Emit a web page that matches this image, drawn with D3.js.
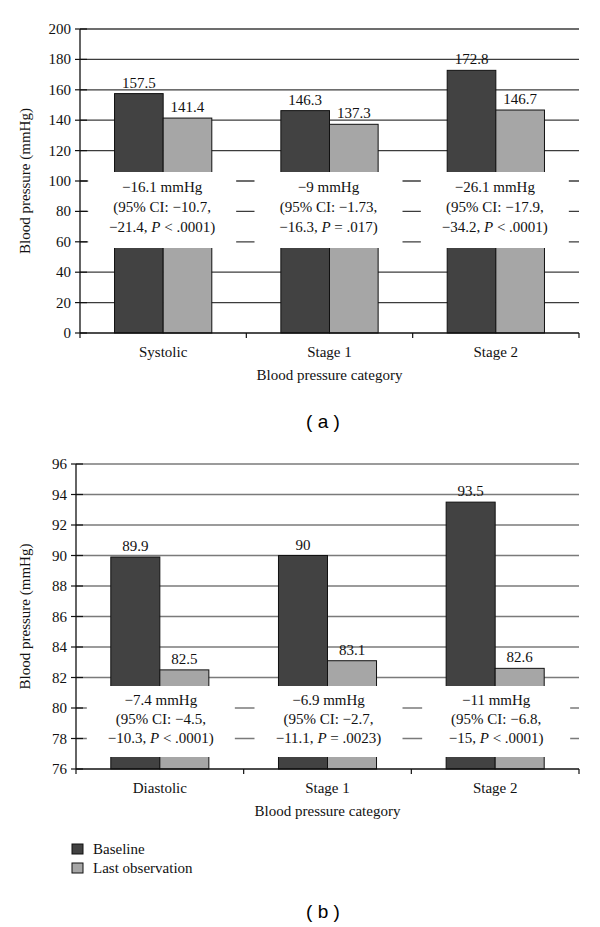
<!DOCTYPE html>
<html><head><meta charset="utf-8">
<script src="https://cdn.jsdelivr.net/npm/d3@7"></script>
<style>body{margin:0;background:#fff}svg{display:block}</style>
</head><body>
<svg id="c" width="600" height="927"></svg>
<script>
const series = ["Baseline", "Last observation"];
const colors = ["#424242", "#a6a6a6"];

const catsA = ["Systolic", "Stage 1", "Stage 2"];
const baselineA = [157.5, 146.3, 172.8];
const lastA = [141.4, 137.3, 146.7];
const ticksA = [0, 20, 40, 60, 80, 100, 120, 140, 160, 180, 200];
const notesA = [
  ["−16.1 mmHg", "(95% CI: −10.7,", "−21.4, P < .0001)"],
  ["−9 mmHg", "(95% CI: −1.73,", "−16.3, P = .017)"],
  ["−26.1 mmHg", "(95% CI: −17.9,", "−34.2, P < .0001)"]
];

const catsB = ["Diastolic", "Stage 1", "Stage 2"];
const baselineB = [89.9, 90, 93.5];
const lastB = [82.5, 83.1, 82.6];
const ticksB = [76, 78, 80, 82, 84, 86, 88, 90, 92, 94, 96];
const notesB = [
  ["−7.4 mmHg", "(95% CI: −4.5,", "−10.3, P < .0001)"],
  ["−6.9 mmHg", "(95% CI: −2.7,", "−11.1, P = .0023)"],
  ["−11 mmHg", "(95% CI: −6.8,", "−15, P < .0001)"]
];

const svg = d3.select("#c");
const SERIF = "'Liberation Serif','Times New Roman',serif";
const FS = 15;

function panel(o) {
  const g = svg.append("g");
  const x = d3.scaleBand().domain(o.cats).range([o.left, o.right]);
  const xs = d3.scaleBand().domain(series).range([0, x.bandwidth()]).paddingOuter(0.71);
  const y = d3.scaleLinear().domain([o.ticks[0], o.ticks[o.ticks.length - 1]]).range([o.bottom, o.top]);

  g.selectAll("line.grid").data(o.ticks.slice(1)).join("line")
    .attr("x1", o.left).attr("x2", o.right)
    .attr("y1", d => y(d)).attr("y2", d => y(d))
    .attr("stroke", o.gridColor).attr("stroke-width", 1.3);

  const rows = o.cats.map((c, i) => ({cat: c, vals: [o.base[i], o.last[i]]}));
  const grp = g.selectAll("g.cat").data(rows).join("g")
    .attr("transform", d => `translate(${x(d.cat)},0)`);
  grp.selectAll("rect").data(d => d.vals.map((v, j) => ({s: series[j], v, j}))).join("rect")
    .attr("x", d => xs(d.s)).attr("width", xs.bandwidth())
    .attr("y", d => y(d.v)).attr("height", d => o.bottom - y(d.v))
    .attr("fill", d => colors[d.j]).attr("stroke", "#111").attr("stroke-width", 1);
  grp.selectAll("text.val").data(d => d.vals.map((v, j) => ({s: series[j], v}))).join("text")
    .attr("x", d => xs(d.s) + xs.bandwidth() / 2).attr("y", d => y(d.v) - 6)
    .attr("text-anchor", "middle").attr("font-family", SERIF).attr("font-size", FS)
    .attr("fill", "#111").text(d => d.v);

  o.cats.forEach((c, i) => {
    const cx = x(c) + x.bandwidth() / 2 + o.boxShift;
    g.append("rect").attr("x", cx - 74).attr("width", 148)
      .attr("y", o.boxTop).attr("height", o.boxBottom - o.boxTop).attr("fill", "#fff");
    o.notes[i].forEach((line, k) => {
      const t = g.append("text").attr("x", cx).attr("y", o.noteBase + k * o.noteStep)
        .attr("text-anchor", "middle").attr("font-family", SERIF).attr("font-size", FS).attr("fill", "#111");
      const idx = line.indexOf("P ");
      if (idx >= 0) {
        t.append("tspan").text(line.slice(0, idx));
        t.append("tspan").attr("font-style", "italic").text("P");
        t.append("tspan").text(line.slice(idx + 1));
      } else t.text(line);
    });
  });

  g.append("line").attr("x1", o.left).attr("x2", o.left).attr("y1", o.top).attr("y2", o.bottom)
    .attr("stroke", "#111").attr("stroke-width", 1.3);
  g.selectAll("line.yt").data(o.ticks).join("line")
    .attr("x1", o.left - 5).attr("x2", o.left + 7)
    .attr("y1", d => y(d)).attr("y2", d => y(d)).attr("stroke", "#111").attr("stroke-width", 1.2);
  g.selectAll("text.yl").data(o.ticks).join("text")
    .attr("x", o.left - 9).attr("y", d => y(d) + 5)
    .attr("text-anchor", "end").attr("font-family", SERIF).attr("font-size", FS).attr("fill", "#111")
    .text(d => d);

  g.append("line").attr("x1", o.left).attr("x2", o.right).attr("y1", o.bottom).attr("y2", o.bottom)
    .attr("stroke", "#111").attr("stroke-width", 1.3);
  const bounds = o.cats.map(c => x(c)).concat([o.right]);
  g.selectAll("line.xt").data(bounds).join("line")
    .attr("x1", d => d).attr("x2", d => d).attr("y1", o.bottom).attr("y2", o.bottom + 5)
    .attr("stroke", "#111").attr("stroke-width", 1.2);
  g.selectAll("text.xl").data(o.cats).join("text")
    .attr("x", d => x(d) + x.bandwidth() / 2).attr("y", o.bottom + 24)
    .attr("text-anchor", "middle").attr("font-family", SERIF).attr("font-size", FS).attr("fill", "#111")
    .text(d => d);
  g.append("text").attr("x", (o.left + o.right) / 2).attr("y", o.bottom + 47)
    .attr("text-anchor", "middle").attr("font-family", SERIF).attr("font-size", FS).attr("fill", "#111")
    .text("Blood pressure category");
  g.append("text").attr("transform", `translate(30,${(o.top + o.bottom) / 2}) rotate(-90)`)
    .attr("text-anchor", "middle").attr("font-family", SERIF).attr("font-size", FS).attr("fill", "#111")
    .text("Blood pressure (mmHg)");
  g.append("text").attr("x", 323).attr("y", o.tagY)
    .attr("text-anchor", "middle").attr("font-family", "'Liberation Sans',Arial,sans-serif")
    .attr("font-size", 19).attr("fill", "#000").text(o.tag);
}

panel({cats: catsA, base: baselineA, last: lastA, ticks: ticksA, notes: notesA,
  left: 80, right: 579, top: 29, bottom: 333, gridColor: "#3c3c3c", boxShift: -1,
  boxTop: 172, boxBottom: 248, noteBase: 192, noteStep: 20, tag: "( a )", tagY: 428});
panel({cats: catsB, base: baselineB, last: lastB, ticks: ticksB, notes: notesB,
  left: 76, right: 579, top: 464, bottom: 769, gridColor: "#7a7a7a", boxShift: 1,
  boxTop: 686, boxBottom: 757, noteBase: 705, noteStep: 19, tag: "( b )", tagY: 918});

const leg = svg.append("g");
series.forEach((s, i) => {
  leg.append("rect").attr("x", 72).attr("y", 844 + i * 19).attr("width", 11).attr("height", 10)
    .attr("fill", colors[i]).attr("stroke", "#111").attr("stroke-width", 1);
  leg.append("text").attr("x", 93).attr("y", 854 + i * 19)
    .attr("font-family", SERIF).attr("font-size", FS).attr("fill", "#111").text(s);
});
</script>
</body></html>
